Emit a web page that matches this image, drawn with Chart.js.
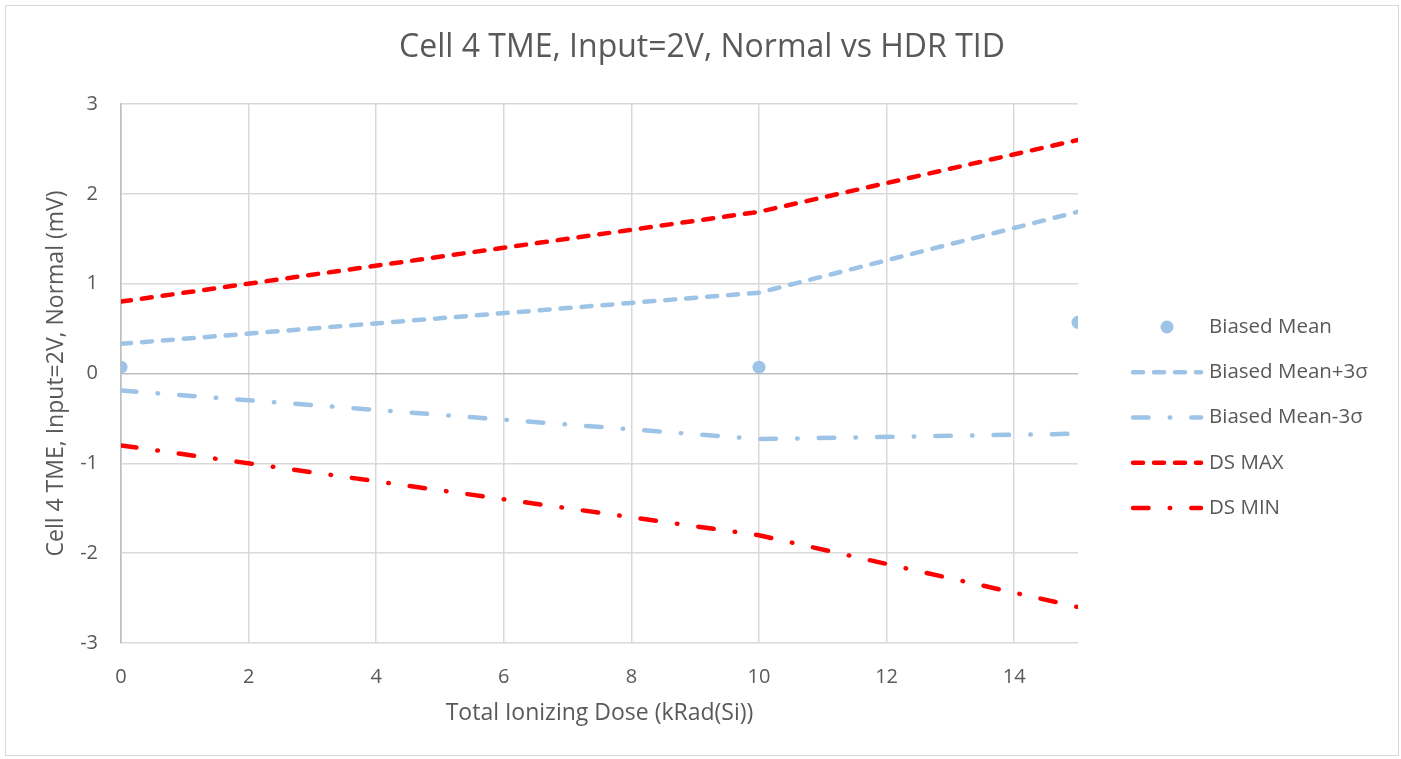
<!DOCTYPE html>
<html>
<head>
<meta charset="utf-8">
<script src="https://cdn.jsdelivr.net/npm/chart.js@4.4.0/dist/chart.umd.min.js"></script>
<style>
  html, body { margin: 0; padding: 0; background: #fff; }
  #box { position: absolute; left: 5px; top: 5px; width: 1392px; height: 749px; border: 1px solid #d9d9d9; }
</style>
</head>
<body>
<div id="box"><canvas id="chart"></canvas></div>
<script>
// data
var dose = [0, 10, 15];
var biasedMean = [0.07, 0.07, 0.57];
var meanPlus3s = [0.33, 0.9, 1.8];
var meanMinus3s = [-0.19, -0.73, -0.67];
var dsMax = [0.8, 1.8, 2.6];
var dsMin = [-0.8, -1.8, -2.6];
var xTicks = [0, 2, 4, 6, 8, 10, 12, 14];
var yTicks = [-3, -2, -1, 0, 1, 2, 3];

var blue = '#9dc3e6';
var red = '#ff0000';
var textColor = '#595959';

function pts(ys) {
  return dose.map(function (x, i) { return { x: x, y: ys[i] }; });
}

Chart.defaults.font.family = '"Open Sans", sans-serif';
Chart.defaults.color = textColor;

// legend drawn by hand on the right side
var sideLegend = {
  id: 'sideLegend',
  afterDraw: function (chart) {
    var ctx = chart.ctx, area = chart.chartArea;
    var x0 = area.right + 53, y0 = area.top + 223, step = 45.25, w = 72;
    ctx.save();
    ctx.font = '20.5px "Open Sans", sans-serif';
    ctx.textBaseline = 'middle';
    chart.data.datasets.forEach(function (ds, i) {
      var y = y0 + i * step;
      if (ds.showLine) {
        ctx.strokeStyle = ds.borderColor;
        ctx.lineWidth = ds.borderWidth;
        ctx.lineCap = 'round';
        ctx.setLineDash(ds.borderDash || []);
        ctx.beginPath();
        ctx.moveTo(x0 + 2, y);
        ctx.lineTo(x0 + w - 2, y);
        ctx.stroke();
        ctx.setLineDash([]);
      } else {
        ctx.fillStyle = ds.backgroundColor;
        ctx.beginPath();
        ctx.arc(x0 + w / 2, y, ds.pointRadius, 0, Math.PI * 2);
        ctx.fill();
      }
      ctx.fillStyle = textColor;
      ctx.fillText(ds.label, x0 + w + 6, y);
    });
    ctx.restore();
  }
};

var ctx = document.getElementById('chart').getContext('2d');
var myChart = new Chart(ctx, {
  type: 'scatter',
  data: {
    datasets: [{
      label: 'Biased Mean',
      data: pts(biasedMean),
      showLine: false,
      pointRadius: 6.5,
      pointHoverRadius: 6.5,
      backgroundColor: blue,
      borderColor: blue,
      borderWidth: 0
    }, {
      label: 'Biased Mean+3σ',
      data: pts(meanPlus3s),
      showLine: true,
      pointRadius: 0,
      borderColor: blue,
      borderWidth: 4.5,
      borderDash: [10, 11],
      borderCapStyle: 'round'
    }, {
      label: 'Biased Mean-3σ',
      data: pts(meanMinus3s),
      showLine: true,
      pointRadius: 0,
      borderColor: blue,
      borderWidth: 4.5,
      borderDash: [15.5, 21.2, 0.5, 21.1],
      borderCapStyle: 'round'
    }, {
      label: 'DS MAX',
      data: pts(dsMax),
      showLine: true,
      pointRadius: 0,
      borderColor: red,
      borderWidth: 4.5,
      borderDash: [10, 11],
      borderCapStyle: 'round'
    }, {
      label: 'DS MIN',
      data: pts(dsMin),
      showLine: true,
      pointRadius: 0,
      borderColor: red,
      borderWidth: 4.5,
      borderDash: [15.5, 21.2, 0.5, 21.1],
      borderCapStyle: 'round'
    }]
  },
  options: {
    responsive: true,
    maintainAspectRatio: false,
    animation: false,
    layout: { padding: 0 },
    plugins: {
      legend: { display: false },
      tooltip: { enabled: false },
      title: {
        display: true,
        text: 'Cell 4 TME, Input=2V, Normal vs HDR TID',
        color: textColor,
        font: { size: 32, weight: 'normal' },
        padding: { top: 23, bottom: 36.6 }
      }
    },
    scales: {
      x: {
        type: 'linear',
        min: 0,
        max: 15,
        afterBuildTicks: function (scale) {
          scale.ticks = xTicks.map(function (v) { return { value: v }; });
        },
        afterFit: function (scale) { scale.height = 112; },
        grid: {
          color: function (c) { return c.tick && c.tick.value === 0 ? '#bfbfbf' : '#d9d9d9'; },
          lineWidth: 1.5,
          drawTicks: false
        },
        border: { display: false },
        ticks: { padding: 22, font: { size: 20 }, color: textColor },
        title: {
          display: true,
          text: 'Total Ionizing Dose (kRad(Si))',
          color: textColor,
          font: { size: 23 },
          padding: { top: 0, bottom: 28 }
        }
      },
      y: {
        min: -3,
        max: 3,
        afterBuildTicks: function (scale) {
          scale.ticks = yTicks.map(function (v) { return { value: v }; });
        },
        afterFit: function (scale) { scale.width = 115; },
        grid: {
          color: function (c) { return c.tick && c.tick.value === 0 ? '#bfbfbf' : '#d9d9d9'; },
          lineWidth: 1.5,
          drawTicks: false
        },
        border: { display: true, color: '#bfbfbf', width: 1.5 },
        ticks: { padding: 23, font: { size: 20 }, color: textColor },
        title: {
          display: true,
          text: 'Cell 4 TME, Input=2V, Normal (mV)',
          color: textColor,
          font: { size: 23 },
          padding: { top: 37, bottom: 0 }
        }
      },
      // empty right-hand axis that only reserves room for the legend
      side: {
        position: 'right',
        min: -3,
        max: 3,
        afterFit: function (scale) { scale.width = 320; },
        grid: { display: false },
        border: { display: false },
        ticks: { display: false }
      }
    }
  },
  plugins: [sideLegend]
});
</script>
</body>
</html>
